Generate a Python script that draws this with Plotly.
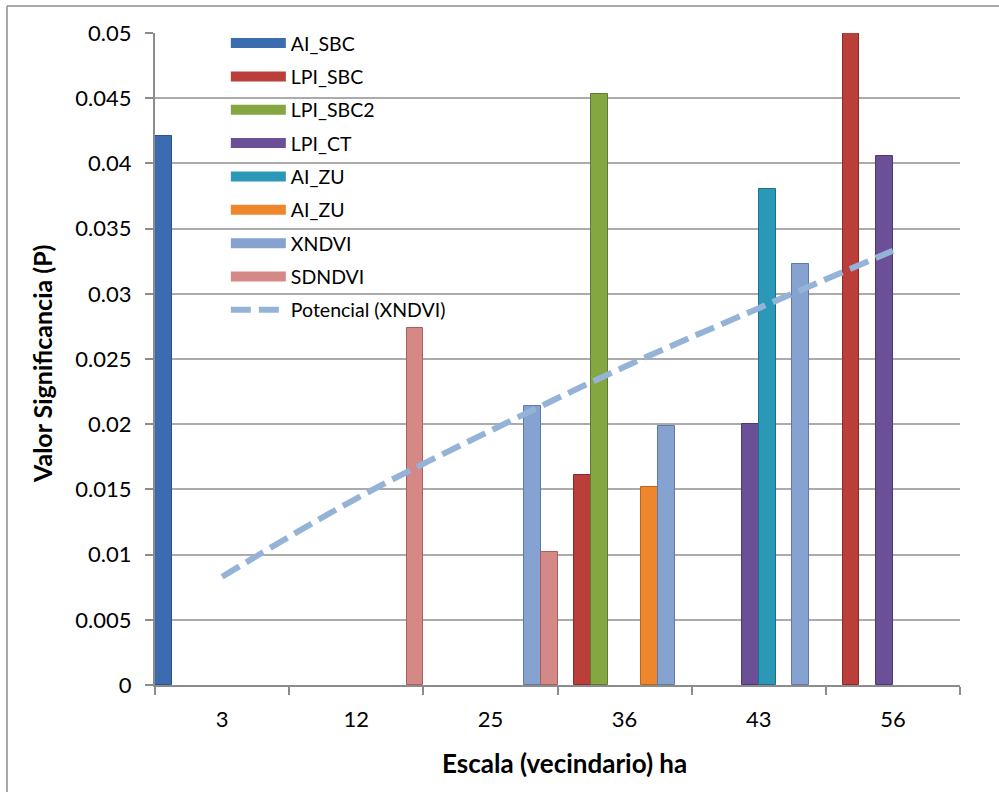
import plotly.graph_objects as go

categories = ["3", "12", "25", "36", "43", "56"]

series_names = ["AI_SBC", "LPI_SBC", "LPI_SBC2", "LPI_CT", "AI_ZU", "AI_ZU", "XNDVI", "SDNDVI"]
ai_sbc   = [0.0421, None, None, None, None, None]
lpi_sbc  = [None, None, None, 0.0161, None, 0.0500]
lpi_sbc2 = [None, None, None, 0.0453, None, None]
lpi_ct   = [None, None, None, None, 0.0200, 0.0406]
ai_zu_1  = [None, None, None, None, 0.0380, None]
ai_zu_2  = [None, None, None, 0.0152, None, None]
xndvi    = [None, None, 0.0214, 0.0199, 0.0323, None]
sdndvi   = [None, 0.0274, 0.0102, None, None, None]

trend_name = "Potencial (XNDVI)"
trend_values = [0.0083, 0.0143, 0.0195, 0.0244, 0.0289, 0.0333]

y_ticks = [0, 0.005, 0.01, 0.015, 0.02, 0.025, 0.03, 0.035, 0.04, 0.045, 0.05]

series_values = [ai_sbc, lpi_sbc, lpi_sbc2, lpi_ct, ai_zu_1, ai_zu_2, xndvi, sdndvi]
fill_colors = ["#3B6CB0", "#BA3F3B", "#84A741", "#6B5098", "#2C98B7", "#EE872C", "#85A2D0", "#D48987"]
edge_colors = ["#2B5387", "#8E2B28", "#5F7B2C", "#4E3872", "#1E7088", "#B9651C", "#5F7AA6", "#A8605E"]

FONT = "Lato"

fig = go.Figure()
for i, (name, vals) in enumerate(zip(series_names, series_values)):
    fig.add_trace(go.Bar(
        name=name, x=categories, y=vals,
        marker=dict(color=fill_colors[i], line=dict(color=edge_colors[i], width=1)),
        legendgroup="g%d" % i, showlegend=False,
    ))
    # legend-only entry drawn as a wide swatch, like the original legend keys
    fig.add_trace(go.Scatter(
        name=name, x=[None], y=[None], mode="lines",
        line=dict(color=fill_colors[i], width=12),
        legendgroup="g%d" % i, showlegend=True, hoverinfo="skip",
    ))

fig.add_trace(go.Scatter(
    name=trend_name, x=categories, y=trend_values, mode="lines",
    line=dict(color="#95B3D7", width=6, dash="20px,8px", shape="spline"),
    legendgroup="g8",
))

fig.update_layout(
    width=999, height=792,
    margin=dict(l=155, r=39, t=33, b=107),
    paper_bgcolor="white", plot_bgcolor="white",
    barmode="group", bargap=0, bargroupgap=0,
    font=dict(family=FONT, size=21, color="black"),
    showlegend=True,
    legend=dict(
        x=0.088, y=1.014, xanchor="left", yanchor="top",
        bgcolor="rgba(0,0,0,0)", font=dict(family=FONT, size=19.5, color="black"),
        tracegroupgap=5, itemwidth=55,
    ),
    xaxis=dict(
        type="category", showgrid=False, showline=True, linecolor="#8C8C8C", linewidth=2,
        ticks="outside", tickson="boundaries", ticklen=8, tickcolor="#8C8C8C", tickwidth=1.5,
        tickfont=dict(family=FONT, size=22), zeroline=False, ticklabelstandoff=14,
    ),
    yaxis=dict(
        range=[0, 0.05], tickvals=y_ticks, ticktext=[("%g" % v) for v in y_ticks],
        showgrid=True, gridcolor="#ABABAB", gridwidth=1.5,
        showline=True, linecolor="#8C8C8C", linewidth=2,
        ticks="outside", ticklen=8, tickcolor="#8C8C8C", tickwidth=1.5,
        tickfont=dict(family=FONT, size=22), zeroline=False, ticklabelstandoff=9,
    ),
    annotations=[
        dict(text="<b>Valor Significancia (P)</b>", xref="paper", yref="paper",
             x=(42 - 155) / 805, y=(685 - 364) / 652, textangle=-90, showarrow=False,
             font=dict(family=FONT, size=25), xanchor="center", yanchor="middle"),
        dict(text="<b>Escala (vecindario) ha</b>", xref="paper", yref="paper",
             x=(564 - 155) / 805, y=(685 - 763) / 652, showarrow=False,
             font=dict(family=FONT, size=26), xanchor="center", yanchor="middle"),
    ],
    shapes=[
        dict(type="line", xref="paper", yref="paper", x0=(7 - 155) / 805, x1=(1010 - 155) / 805,
             y0=(685 - 6) / 652, y1=(685 - 6) / 652, line=dict(color="#8C8C8C", width=1.5)),
        dict(type="line", xref="paper", yref="paper", x0=(7 - 155) / 805, x1=(7 - 155) / 805,
             y0=(685 - 6) / 652, y1=(685 - 800) / 652, line=dict(color="#8C8C8C", width=1.5)),
    ],
)

fig.write_html("out.html")
